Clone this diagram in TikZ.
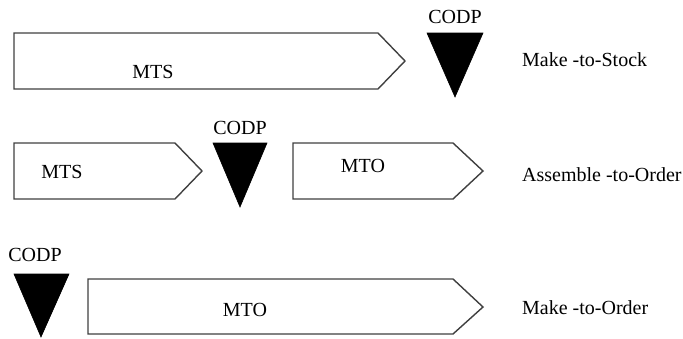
\documentclass[tikz,border=0pt]{standalone}
\usepackage{fontspec}
\setmainfont{Liberation Serif}
\usepackage{tikz}
\usetikzlibrary{calc, positioning}
\tikzset{
    stage/.style={draw=black!75, line width=1.4pt, fill=white, line join=miter},
    codp/.style={fill=black, draw=black, line width=0.6pt, line join=miter},
    lbl/.style={font=\fontsize{20}{22}\selectfont, inner sep=0pt},
    mode/.style={font=\fontsize{20}{22}\selectfont, inner sep=0pt, anchor=west}
}

\begin{document}
\begin{tikzpicture}[x=1pt, y=-1pt]
    \useasboundingbox (0,0) rectangle (683,338);

    % Make-to-Stock
    \draw[stage] (14,33) -- (378,33) -- (405,61) -- (378,89) -- (14,89) -- cycle;
    \node[lbl] (mts1) at (153,72) {MTS};
    \coordinate (T1) at (455,97);
    \filldraw[codp] (427,33) -- (483,33) -- (T1) -- cycle;
    \node[lbl] (codp1) at (455,17) {CODP};
    \node[mode] (mts) at (522,60) {Make -to-Stock};

    % Assemble-to-Order
    \draw[stage] (14,143) -- (175,143) -- (202,171) -- (175,199) -- (14,199) -- cycle;
    \node[lbl] (mts2) at (62,172) {MTS};
    \coordinate (T2) at (240,207);
    \filldraw[codp] (213,143) -- (267,143) -- (T2) -- cycle;
    \node[lbl] (codp2) at (240,128) {CODP};
    \draw[stage] (293,143) -- (453,143) -- (483,171) -- (453,199) -- (293,199) -- cycle;
    \node[lbl] (mto2) at (363,166) {MTO};
    \node[mode] (ato) at (522,175) {Assemble -to-Order};

    % Make-to-Order
    \coordinate (T3) at (41,337);
    \filldraw[codp] (14,274) -- (69,274) -- (T3) -- cycle;
    \node[lbl] (codp3) at (35,255) {CODP};
    \draw[stage] (88,279) -- (453,279) -- (483,307) -- (453,334) -- (88,334) -- cycle;
    \node[lbl] (mto3) at (245,310) {MTO};
    \node[mode] (mto) at (522,308) {Make -to-Order};
\end{tikzpicture}
\end{document}
